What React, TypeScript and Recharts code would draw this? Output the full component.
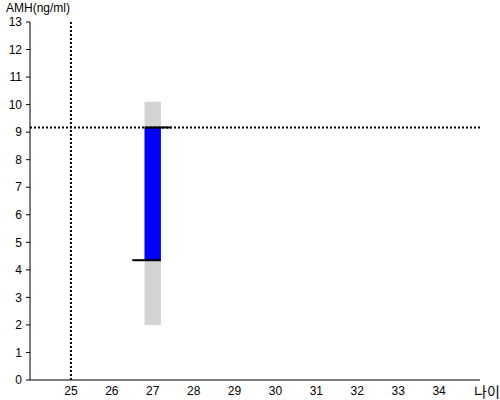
import React from 'react';
import { ComposedChart, XAxis, YAxis, ReferenceArea, ReferenceLine, Label } from 'recharts';

// reference values
const xTicks = [25, 26, 27, 28, 29, 30, 31, 32, 33, 34];
const yTicks = [0, 1, 2, 3, 4, 5, 6, 7, 8, 9, 10, 11, 12, 13];
const ageLine = 25;
const amhLine = 9.17;
// [x1, x2, low, high]
const greyRange = [26.8, 27.2, 2.0, 10.1];
const blueRange = [26.8, 27.2, 4.35, 9.17];
// [x1, x2, y]
const topMark = [26.8, 27.45, 9.17];
const lowMark = [26.5, 27.2, 4.35];

const font = 'Arial, "Liberation Sans", sans-serif';

const App: React.FC = () => {
    return (
        <div style={{ position: 'absolute', left: 0, top: 0, width: 500, height: 400 }}>
            <ComposedChart width={500} height={400} margin={{ top: 22, right: 20, bottom: 0, left: 0 }}>
                <XAxis
                    type="number"
                    dataKey="x"
                    domain={[24, 35]}
                    ticks={xTicks}
                    height={20}
                    tickLine={false}
                    tickSize={4}
                    tickMargin={2}
                    allowDataOverflow
                    stroke="#000"
                    tick={{ fill: '#000', fontSize: 12, fontFamily: font }}
                >
                    <Label
                        content={() => (
                            <text x={474} y={397} fontSize={14} fontFamily='"Noto Sans CJK KR", sans-serif' fill="#000">
                                나이
                            </text>
                        )}
                    />
                </XAxis>
                <YAxis
                    type="number"
                    domain={[0, 13]}
                    ticks={yTicks}
                    width={30}
                    tickSize={4}
                    tickMargin={4}
                    interval={0}
                    allowDataOverflow
                    stroke="#000"
                    tick={{ fill: '#000', fontSize: 12, fontFamily: font }}
                >
                    <Label
                        content={() => (
                            <text x={6} y={12} fontSize={12} fontFamily={font} fill="#000">
                                AMH(ng/ml)
                            </text>
                        )}
                    />
                </YAxis>
                <ReferenceArea x1={greyRange[0]} x2={greyRange[1]} y1={greyRange[2]} y2={greyRange[3]} fill="#d3d3d3" fillOpacity={1} stroke="none" />
                <ReferenceArea x1={blueRange[0]} x2={blueRange[1]} y1={blueRange[2]} y2={blueRange[3]} fill="#0000ff" fillOpacity={1} stroke="none" />
                <ReferenceLine x={ageLine} stroke="#000" strokeWidth={2} strokeDasharray="2 2" />
                <ReferenceLine y={amhLine} stroke="#000" strokeWidth={2} strokeDasharray="2 2" />
                <ReferenceLine segment={[{ x: topMark[0], y: topMark[2] }, { x: topMark[1], y: topMark[2] }]} stroke="#000" strokeWidth={2} />
                <ReferenceLine segment={[{ x: lowMark[0], y: lowMark[2] }, { x: lowMark[1], y: lowMark[2] }]} stroke="#000" strokeWidth={2} />
            </ComposedChart>
        </div>
    );
};

export default App;
